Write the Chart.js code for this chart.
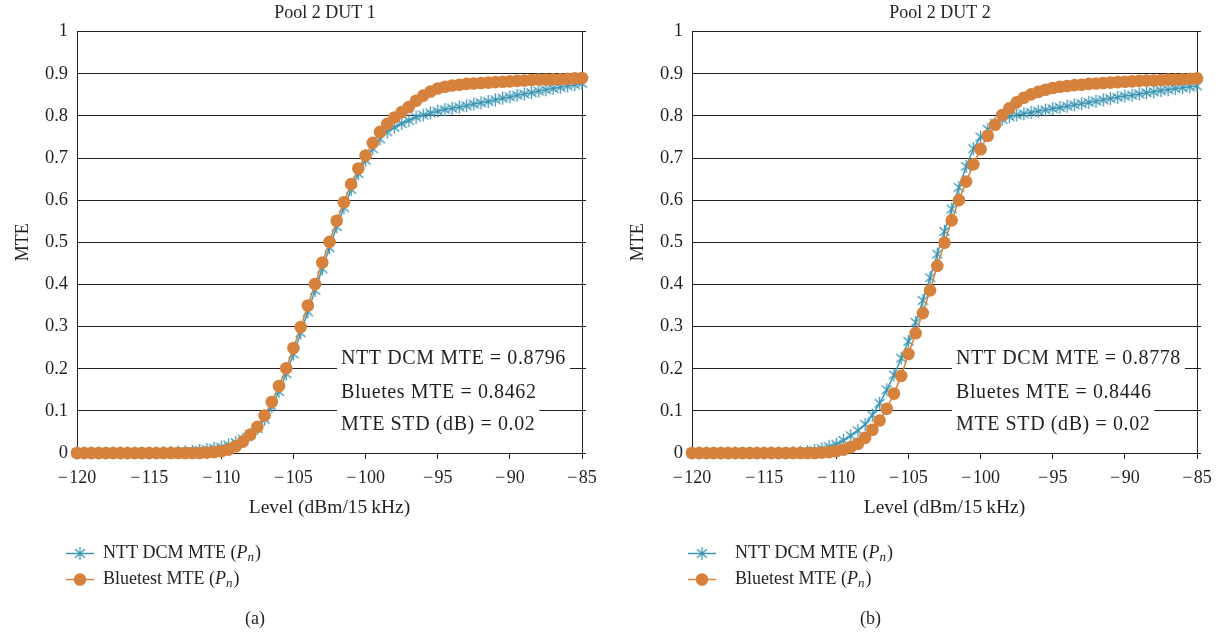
<!DOCTYPE html>
<html>
<head>
<meta charset="utf-8">
<script src="https://cdn.jsdelivr.net/npm/chart.js@4.4.0/dist/chart.umd.min.js"></script>
<style>
  html, body { margin: 0; padding: 0; background: #fff; overflow: hidden; }
  #wrap { position: relative; width: 1221px; height: 634px; }
  .panel { position: absolute; top: 0; width: 652px; height: 634px; }
  .tag { position: absolute; top: 608px; font: 18px 'Liberation Serif', serif; color: #231f20; }
</style>
</head>
<body>
<div id="wrap">
  <div class="panel" style="left:0"><canvas id="chart-a" width="652" height="634"></canvas></div>
  <div class="panel" style="left:615px"><canvas id="chart-b" width="652" height="634"></canvas></div>
  <div class="tag" style="left:245px">(a)</div>
  <div class="tag" style="left:860px">(b)</div>
</div>
<script>
// --- values (0.5 dB steps) ---
const levels = [
  -120, -119.5, -119, -118.5, -118, -117.5, -117, -116.5, -116, -115.5,
  -115, -114.5, -114, -113.5, -113, -112.5, -112, -111.5, -111, -110.5,
  -110, -109.5, -109, -108.5, -108, -107.5, -107, -106.5, -106, -105.5,
  -105, -104.5, -104, -103.5, -103, -102.5, -102, -101.5, -101, -100.5,
  -100, -99.5, -99, -98.5, -98, -97.5, -97, -96.5, -96, -95.5,
  -95, -94.5, -94, -93.5, -93, -92.5, -92, -91.5, -91, -90.5,
  -90, -89.5, -89, -88.5, -88, -87.5, -87, -86.5, -86, -85.5, -85
];
const xTicks = [-120, -115, -110, -105, -100, -95, -90, -85];
const yTicks = [0, 0.1, 0.2, 0.3, 0.4, 0.5, 0.6, 0.7, 0.8, 0.9, 1];

// Pool 2 DUT 1
const nttA = [
  0, 0, 0, 0, 0, 0, 0, 0, 0, 0,
  0, 0, 0.001, 0.002, 0.002, 0.003, 0.004, 0.006, 0.008, 0.011,
  0.014, 0.019, 0.025, 0.033, 0.044, 0.058, 0.080, 0.110, 0.146, 0.188,
  0.235, 0.285, 0.335, 0.386, 0.437, 0.487, 0.537, 0.582, 0.625, 0.663,
  0.695, 0.722, 0.745, 0.762, 0.773, 0.782, 0.789, 0.797, 0.802, 0.807,
  0.811, 0.815, 0.818, 0.821, 0.824, 0.828, 0.831, 0.834, 0.838, 0.842,
  0.845, 0.849, 0.852, 0.855, 0.859, 0.862, 0.865, 0.868, 0.871, 0.874, 0.877
];
const bluetestA = [
  0, 0, 0, 0, 0, 0, 0, 0, 0, 0,
  0, 0, 0, 0, 0, 0, 0, 0, 0.001, 0.002,
  0.004, 0.008, 0.016, 0.027, 0.043, 0.062, 0.089, 0.121, 0.159, 0.201,
  0.249, 0.299, 0.350, 0.401, 0.452, 0.501, 0.551, 0.595, 0.638, 0.675,
  0.706, 0.736, 0.762, 0.781, 0.796, 0.809, 0.821, 0.836, 0.848, 0.858,
  0.865, 0.869, 0.872, 0.874, 0.876, 0.877, 0.878, 0.879, 0.880, 0.881,
  0.882, 0.883, 0.884, 0.885, 0.886, 0.886, 0.887, 0.887, 0.888, 0.889, 0.890
];

// Pool 2 DUT 2
const nttB = [
  0, 0, 0, 0, 0, 0, 0, 0, 0, 0,
  0, 0, 0, 0, 0.001, 0.002, 0.003, 0.006, 0.010, 0.015,
  0.021, 0.030, 0.041, 0.053, 0.068, 0.090, 0.118, 0.150, 0.185, 0.225,
  0.265, 0.310, 0.362, 0.416, 0.472, 0.526, 0.579, 0.630, 0.680, 0.722,
  0.750, 0.768, 0.783, 0.792, 0.798, 0.802, 0.805, 0.808, 0.811, 0.814,
  0.817, 0.820, 0.823, 0.826, 0.829, 0.832, 0.835, 0.838, 0.841, 0.844,
  0.847, 0.849, 0.852, 0.855, 0.857, 0.860, 0.862, 0.865, 0.867, 0.869, 0.871
];
const bluetestB = [
  0, 0, 0, 0, 0, 0, 0, 0, 0, 0,
  0, 0, 0, 0, 0, 0, 0, 0, 0.001, 0.002,
  0.004, 0.008, 0.014, 0.022, 0.036, 0.055, 0.077, 0.105, 0.141, 0.183,
  0.235, 0.284, 0.332, 0.386, 0.444, 0.499, 0.552, 0.600, 0.644, 0.685,
  0.721, 0.753, 0.779, 0.802, 0.818, 0.832, 0.843, 0.851, 0.857, 0.862,
  0.866, 0.869, 0.871, 0.873, 0.874, 0.876, 0.877, 0.878, 0.879, 0.880,
  0.881, 0.882, 0.883, 0.884, 0.884, 0.885, 0.886, 0.886, 0.887, 0.888, 0.889
];

const notesA = ['NTT DCM MTE = 0.8796', 'Bluetes MTE = 0.8462', 'MTE STD (dB) = 0.02'];
const notesB = ['NTT DCM MTE = 0.8778', 'Bluetes MTE = 0.8446', 'MTE STD (dB) = 0.02'];
const seriesNames = ['NTT DCM MTE', 'Bluetest MTE'];

const INK = '#231f20';
const BLUE = '#3b95b3';
const ORANGE = '#d6823d';
const FONT = "'Liberation Serif', 'Times New Roman', serif";

Chart.defaults.font.family = FONT;
Chart.defaults.color = INK;

// six-armed asterisk used for the NTT series
function makeStar(color) {
  const c = document.createElement('canvas');
  c.width = 15; c.height = 15;
  const g = c.getContext('2d');
  g.strokeStyle = color;
  g.lineWidth = 1.3;
  g.beginPath();
  [90, 40, 140].forEach(a => {
    const r = a * Math.PI / 180, dx = 6.5 * Math.cos(r), dy = 6.5 * Math.sin(r);
    g.moveTo(7.5 - dx, 7.5 - dy);
    g.lineTo(7.5 + dx, 7.5 + dy);
  });
  g.stroke();
  return c;
}
const starImg = makeStar(BLUE);

function fmtLevel(v) {
  return v < 0 ? '\u2212\u200A' + Math.abs(v) : String(v);
}

// white-backed text block and the legend under the plot
const decor = {
  id: 'decor',
  beforeDatasetsDraw(chart, args, opts) {
    const {ctx, chartArea: a} = chart;
    ctx.save();
    ctx.font = '20px ' + FONT;
    ctx.letterSpacing = '0.6px';
    ctx.textBaseline = 'middle';
    const tx = a.left + 264;
    const rows = [359, 393, 425];
    const tops = [343, 377, 409];
    const bots = [376, 408, 440];
    opts.notes.forEach((s, i) => {
      const w = ctx.measureText(s).width;
      ctx.fillStyle = '#fff';
      ctx.fillRect(tx - 4, tops[i], w + 8, bots[i] - tops[i]);
      ctx.fillStyle = INK;
      ctx.fillText(s, tx, rows[i]);
    });
    ctx.restore();
  },
  afterDraw(chart, args, opts) {
    const {ctx} = chart;
    ctx.save();
    const x0 = opts.legendX;
    [[553, BLUE, 'star'], [579, ORANGE, 'dot']].forEach(([ly, col, kind], i) => {
      ctx.strokeStyle = col;
      ctx.lineWidth = 1.5;
      ctx.beginPath();
      ctx.moveTo(x0, ly + 0.5);
      ctx.lineTo(x0 + 28, ly + 0.5);
      ctx.stroke();
      if (kind === 'star') {
        ctx.drawImage(starImg, x0 + 14 - 7.5, ly - 7);
      } else {
        ctx.fillStyle = col;
        ctx.beginPath();
        ctx.arc(x0 + 14, ly + 0.5, 6.3, 0, Math.PI * 2);
        ctx.fill();
      }
      // label: name (P_n)
      ctx.fillStyle = INK;
      ctx.textBaseline = 'middle';
      let x = x0 + opts.textGap;
      ctx.font = '18px ' + FONT;
      ctx.fillText(seriesNames[i] + ' (', x, ly);
      x += ctx.measureText(seriesNames[i] + ' (').width;
      ctx.font = 'italic 18px ' + FONT;
      ctx.fillText('P', x, ly);
      x += ctx.measureText('P').width;
      ctx.font = 'italic 13px ' + FONT;
      ctx.fillText('n', x, ly + 5);
      x += ctx.measureText('n').width + 1;
      ctx.font = '18px ' + FONT;
      ctx.fillText(')', x, ly);
    });
    ctx.restore();
  }
};

function buildChart(id, title, ntt, bluetest, notes, legendX, textGap) {
  return new Chart(document.getElementById(id), {
    type: 'line',
    data: {
      datasets: [
        {
          label: seriesNames[0],
          data: levels.map((x, i) => ({x: x, y: ntt[i]})),
          borderColor: BLUE,
          backgroundColor: BLUE,
          borderWidth: 1.5,
          pointStyle: starImg,
          pointRadius: 6,
          clip: false,
          order: 2
        },
        {
          label: seriesNames[1],
          data: levels.map((x, i) => ({x: x, y: bluetest[i]})),
          borderColor: ORANGE,
          backgroundColor: ORANGE,
          borderWidth: 1.5,
          pointStyle: 'circle',
          pointRadius: 6.3,
          pointBorderWidth: 0,
          clip: false,
          order: 1
        }
      ]
    },
    options: {
      responsive: false,
      animation: false,
      devicePixelRatio: 1,
      layout: { padding: { left: 0, right: 2, top: 0, bottom: 111 } },
      plugins: {
        legend: { display: false },
        tooltip: { enabled: false },
        title: {
          display: true,
          text: title,
          color: INK,
          font: { size: 18, weight: 'normal' },
          padding: { top: 2, bottom: 8 }
        },
        decor: { notes: notes, legendX: legendX, textGap: textGap }
      },
      scales: {
        x: {
          type: 'linear',
          min: -120,
          max: -85,
          afterBuildTicks: s => { s.ticks = xTicks.map(v => ({value: v})); },
          afterFit: s => { s.height = 70; },
          ticks: { callback: fmtLevel, font: { size: 18 }, color: INK, padding: 8, maxRotation: 0 },
          grid: { drawOnChartArea: false, drawTicks: true, tickLength: 6, color: INK },
          border: { color: INK, width: 1 },
          title: { display: true, text: 'Level (dBm/15\u2009kHz)', color: INK, font: { size: 19.5 }, padding: { top: 0, bottom: 3 } }
        },
        y: {
          min: 0,
          max: 1,
          afterBuildTicks: s => { s.ticks = yTicks.map(v => ({value: v})); },
          afterFit: s => { s.width = 77; },
          ticks: { callback: v => String(Math.round(v * 10) / 10), font: { size: 18.5 }, color: INK, padding: 9 },
          grid: { color: INK, lineWidth: 1, drawTicks: false },
          border: { color: INK, width: 1 },
          title: { display: true, text: 'MTE', color: INK, font: { size: 18 }, padding: { top: 12, bottom: 0 } }
        },
        // right frame line with short outside ticks
        y2: {
          position: 'right',
          min: 0,
          max: 1,
          afterBuildTicks: s => { s.ticks = yTicks.map(v => ({value: v})); },
          afterFit: s => { s.width = 68; },
          ticks: { display: false },
          grid: { drawOnChartArea: false, drawTicks: true, tickLength: 4, color: INK },
          border: { color: INK, width: 1 }
        }
      }
    },
    plugins: [decor]
  });
}

buildChart('chart-a', 'Pool 2 DUT 1', nttA, bluetestA, notesA, 66, 37);
buildChart('chart-b', 'Pool 2 DUT 2', nttB, bluetestB, notesB, 73, 47);
</script>
</body>
</html>
